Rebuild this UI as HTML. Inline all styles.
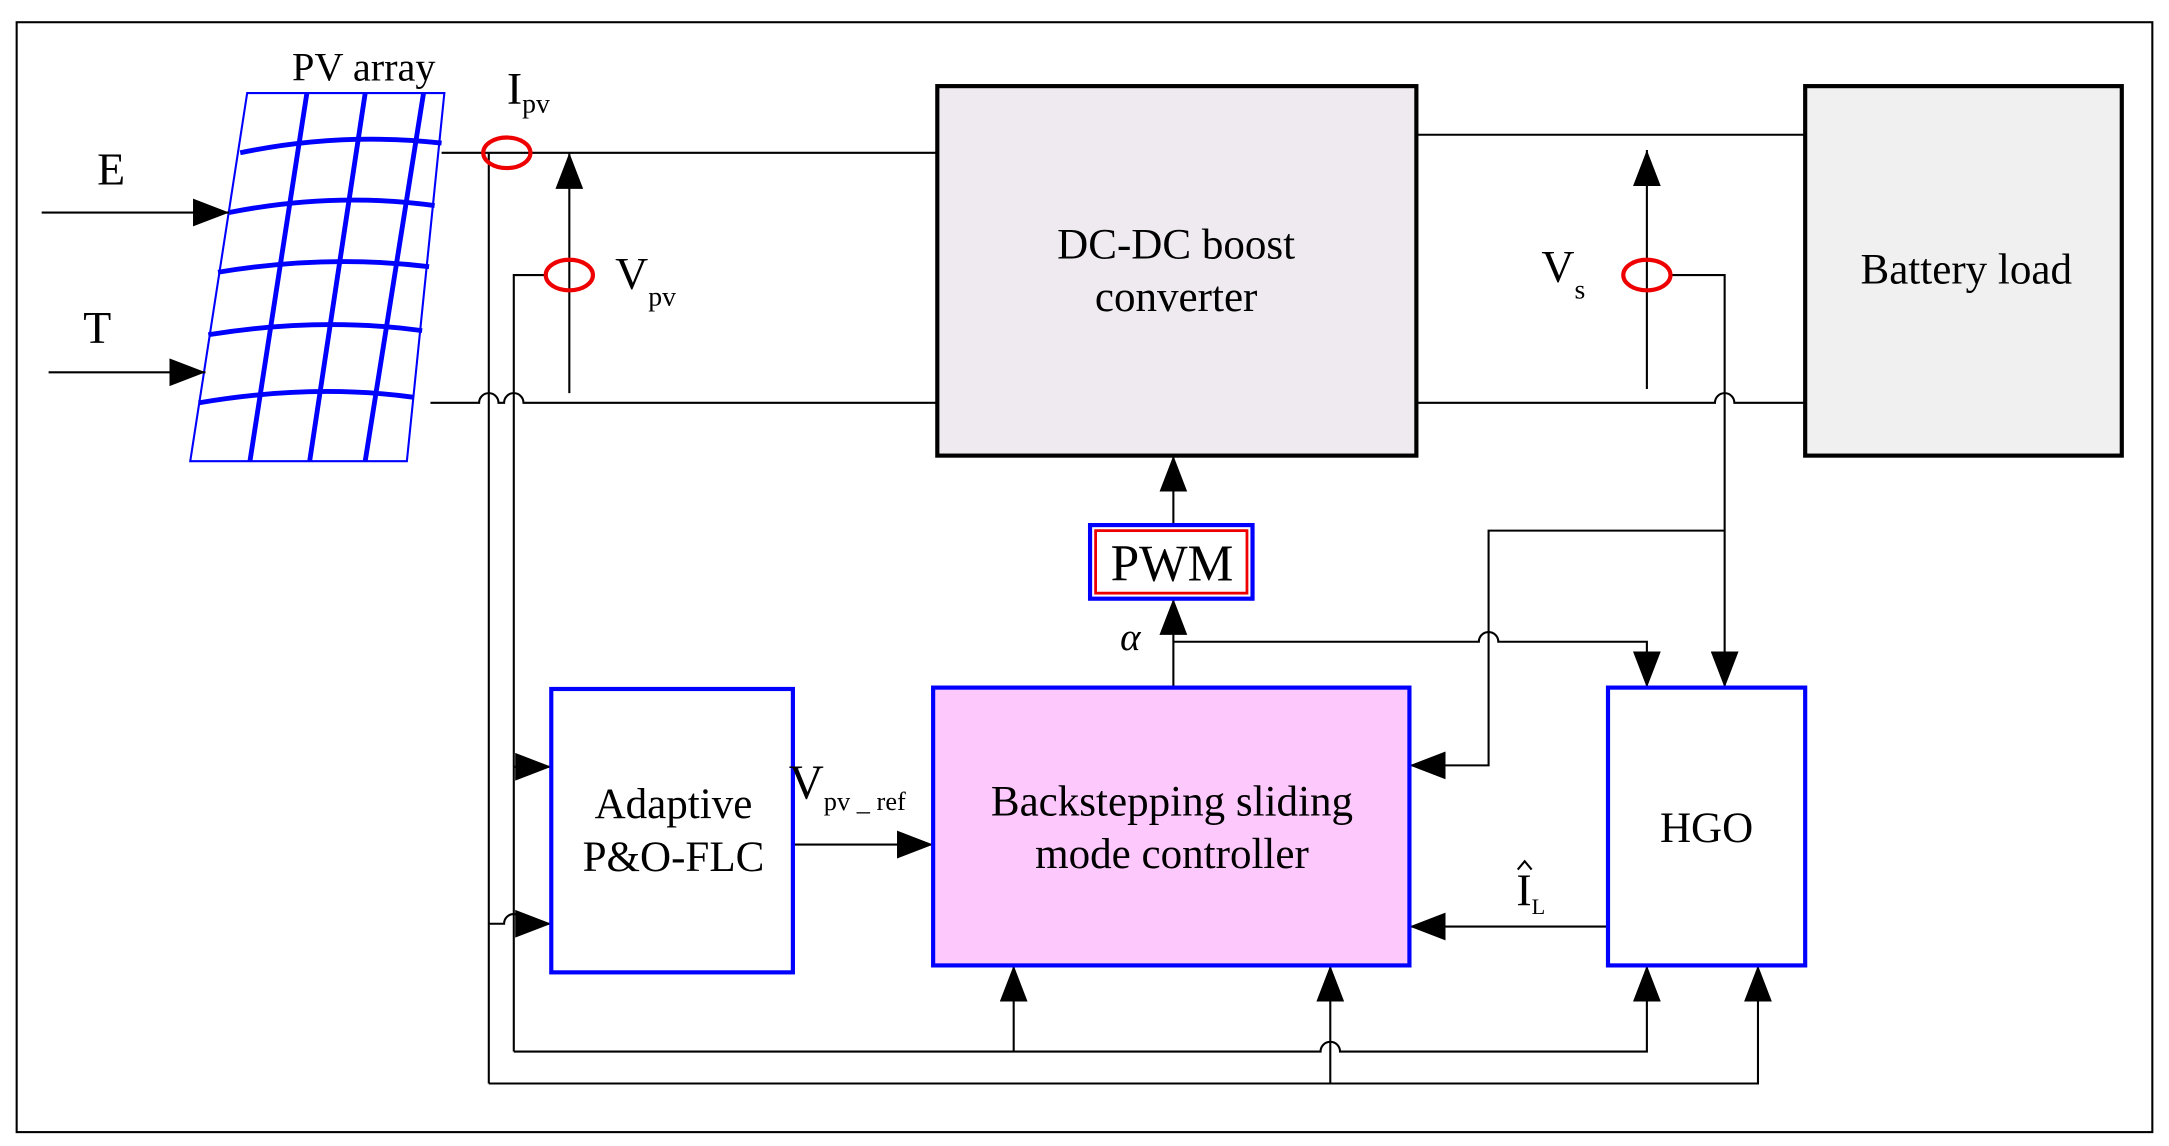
<!DOCTYPE html>
<html><head><style>html,body{margin:0;padding:0;background:#fff}svg{display:block}</style></head>
<body>
<svg width="2169" height="1146" viewBox="0 0 1562 825" preserveAspectRatio="none" xmlns="http://www.w3.org/2000/svg" font-family="Liberation Serif, serif">
<defs>
<marker id="b" markerWidth="26" markerHeight="20" refX="26" refY="10" orient="auto" markerUnits="userSpaceOnUse" viewBox="0 0 26 20"><path d="M0,0L26,10L0,20z" fill="#000"/></marker>
</defs>
<rect x="12" y="16" width="1538" height="799" fill="#fff" stroke="#000" stroke-width="1.5"/>
<g stroke="#0000ff" fill="none">
<path d="M178,67L320,67L293,332L137,332Z" stroke-width="1.5"/>
<path d="M173,110Q245,95 318,103" stroke-width="3.5"/>
<path d="M165,153Q240,138 313,148" stroke-width="3.5"/>
<path d="M157,196Q235,183 309,192" stroke-width="3.5"/>
<path d="M150,241Q230,228 304,238" stroke-width="3.5"/>
<path d="M143,290Q225,276 298,286" stroke-width="3.5"/>
<path d="M221,67L180,332M263,67L223,332M305,67L263,332" stroke-width="3.5"/>
</g>
<text x="262" y="58" font-size="29" text-anchor="middle">PV array</text>
<text x="80" y="133" font-size="33" text-anchor="middle">E</text>
<text x="70" y="247" font-size="33" text-anchor="middle">T</text>
<g stroke="#000" stroke-width="1.5" fill="none">
<line x1="30" y1="153" x2="165" y2="153" marker-end="url(#b)"/>
<line x1="35" y1="268" x2="148" y2="268" marker-end="url(#b)"/>
<line x1="318" y1="110" x2="675" y2="110"/>
<path d="M310,290H345A7,7 0 0 1 359,290H363A7,7 0 0 1 377,290H675"/>
<line x1="352" y1="110" x2="352" y2="780"/>
<line x1="410" y1="283" x2="410" y2="110" marker-end="url(#b)"/>
<path d="M393,198H370V757"/>
<line x1="1020" y1="97" x2="1300" y2="97"/>
<path d="M1020,290H1235A7,7 0 0 1 1249,290H1300"/>
<line x1="1186" y1="280" x2="1186" y2="108" marker-end="url(#b)"/>
<path d="M1203,198H1242V495" marker-end="url(#b)"/>
<path d="M1242,382H1072V551H1015" marker-end="url(#b)"/>
<line x1="845" y1="378" x2="845" y2="328" marker-end="url(#b)"/>
<line x1="845" y1="495" x2="845" y2="431" marker-end="url(#b)"/>
<path d="M845,462H1065A7,7 0 0 1 1079,462H1186V495" marker-end="url(#b)"/>
<line x1="571" y1="608" x2="672" y2="608" marker-end="url(#b)"/>
<line x1="1158" y1="667" x2="1015" y2="667" marker-end="url(#b)"/>
<line x1="370" y1="552" x2="397" y2="552" marker-end="url(#b)"/>
<path d="M352,665H363A7,7 0 0 1 377,665H397" marker-end="url(#b)"/>
<path d="M370,757H951A7,7 0 0 1 965,757H1186V695" marker-end="url(#b)"/>
<line x1="730" y1="757" x2="730" y2="695" marker-end="url(#b)"/>
<path d="M352,780H1266V695" marker-end="url(#b)"/>
<line x1="958" y1="780" x2="958" y2="695" marker-end="url(#b)"/>
</g>
<g fill="none" stroke="#e00" stroke-width="3">
<ellipse cx="365" cy="110" rx="17" ry="11"/>
<ellipse cx="410" cy="198" rx="17" ry="11"/>
<ellipse cx="1186" cy="198" rx="17" ry="11"/>
</g>
<text x="365" y="75" font-size="33">I<tspan font-size="20" dy="6">pv</tspan></text>
<text x="443" y="208" font-size="33">V<tspan font-size="20" dy="12">pv</tspan></text>
<text x="1110" y="203" font-size="33">V<tspan font-size="20" dy="12">s</tspan></text>
<rect x="675" y="62" width="345" height="266" fill="#efeaf0" stroke="#000" stroke-width="3"/>
<text x="847" y="186" font-size="31" text-anchor="middle">DC-DC boost</text>
<text x="847" y="224" font-size="31" text-anchor="middle">converter</text>
<rect x="1300" y="62" width="228" height="266" fill="#f0f0f0" stroke="#000" stroke-width="3"/>
<text x="1416" y="204" font-size="31" text-anchor="middle">Battery load</text>
<rect x="785" y="378" width="117" height="53" fill="#fff" stroke="#0000ff" stroke-width="3"/>
<rect x="789" y="382" width="109" height="45" fill="none" stroke="#e00" stroke-width="2"/>
<text x="844" y="418" font-size="37" text-anchor="middle">PWM</text>
<text x="814" y="468" font-size="28" font-style="italic" text-anchor="middle">α</text>
<rect x="397" y="496" width="174" height="204" fill="#fff" stroke="#0000ff" stroke-width="3"/>
<text x="485" y="589" font-size="31" text-anchor="middle">Adaptive</text>
<text x="485" y="627" font-size="31" text-anchor="middle">P&amp;O-FLC</text>
<rect x="672" y="495" width="343" height="200" fill="#fdc9fd" stroke="#0000ff" stroke-width="3"/>
<text x="844" y="587" font-size="31" text-anchor="middle">Backstepping  sliding</text>
<text x="844" y="625" font-size="31" text-anchor="middle">mode controller</text>
<rect x="1158" y="495" width="142" height="200" fill="#fff" stroke="#0000ff" stroke-width="3"/>
<text x="1229" y="606" font-size="31" text-anchor="middle">HGO</text>
<text x="568" y="575" font-size="35">V<tspan font-size="19" dy="8">pv _ ref</tspan></text>
<text x="1092" y="652" font-size="33">I<tspan font-size="16" dy="6">L</tspan></text>
<path d="M1093,626L1098,620L1103,626" stroke="#000" stroke-width="1.5" fill="none"/>
</svg>
</body></html>
